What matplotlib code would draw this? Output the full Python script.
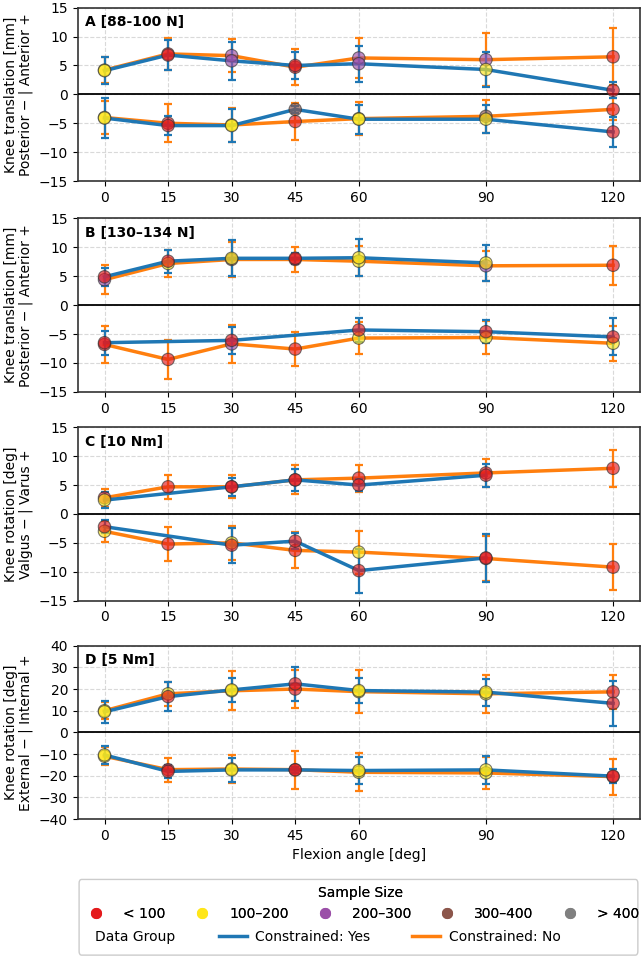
import numpy as np
import matplotlib.pyplot as plt
from matplotlib.lines import Line2D
from matplotlib.patches import FancyBboxPatch

nan = np.nan

# flexion angles (x axis)
flexion = np.array([0, 15, 30, 45, 60, 90, 120])
xticks = [0, 15, 30, 45, 60, 90, 120]

# sample size groups -> marker colour
size_labels = ['< 100', '100–200', '200–300', '300–400', '> 400']
size_colors = ['#e41a1c', '#ffe619', '#9b4fa8', '#8c564b', '#808080']

# --- A: anterior/posterior translation, 88-100 N ---
a_yes_pos = [4.1, 6.8, 5.8, 5.0, 5.3, 4.3, 0.7]
a_yes_pos_sd = [2.3, 2.6, 3.3, 2.4, 3.1, 3.0, 1.4]
a_yes_pos_grp = [1, 0, 2, 0, 2, 1, 0]
a_no_pos = [4.2, 7.0, 6.7, 4.7, 6.3, 6.0, 6.5]
a_no_pos_sd = [2.2, 2.8, 2.8, 3.1, 3.4, 4.6, 4.9]
a_no_pos_grp = [1, 0, 2, 0, 2, 2, 0]
a_yes_neg = [-4.1, -5.4, -5.4, -2.6, -4.3, -4.3, -6.5]
a_yes_neg_sd = [3.5, 1.7, 2.85, 0.6, 2.5, 2.4, 2.6]
a_yes_neg_grp = [1, 0, 1, 3, 1, 1, 0]
a_no_neg = [-4.0, -5.0, -5.3, -4.7, -4.2, -3.8, -2.6]
a_no_neg_sd = [2.8, 3.3, 3.0, 3.2, 2.9, 2.8, 1.9]
a_no_neg_grp = [1, 0, 1, 0, 1, 3, 0]

# --- B: anterior/posterior translation, 130-134 N ---
b_yes_pos = [4.9, 7.6, 8.1, 8.1, 8.2, 7.3, nan]
b_yes_pos_sd = [1.6, 2.0, 3.1, 1.0, 3.2, 3.1, nan]
b_yes_pos_grp = [0, 0, 1, 0, 1, 1, -1]
b_no_pos = [4.4, 7.2, 7.9, 7.9, 7.6, 6.8, 6.9]
b_no_pos_sd = [2.5, 2.3, 3.1, 2.2, 2.6, 2.6, 3.4]
b_no_pos_grp = [2, 1, 3, 0, 1, 2, 0]
b_yes_neg = [-6.5, nan, -6.1, nan, -4.3, -4.6, -5.5]
b_yes_neg_sd = [2.1, nan, 2.3, nan, 2.1, 2.0, 3.2]
b_yes_neg_grp = [0, -1, 0, -1, 0, 0, 0]
b_no_neg = [-6.8, -9.4, -6.7, -7.6, -5.7, -5.6, -6.6]
b_no_neg_sd = [3.2, 3.4, 3.3, 3.0, 2.7, 2.9, 3.0]
b_no_neg_grp = [0, 0, 2, 0, 1, 1, 1]

# --- C: varus/valgus rotation, 10 Nm ---
c_yes_pos = [2.4, nan, 4.7, 5.9, 5.0, 6.7, nan]
c_yes_pos_sd = [1.4, nan, 1.6, 1.95, 1.0, 2.0, nan]
c_yes_pos_grp = [1, -1, 0, 0, 0, 0, -1]
c_no_pos = [2.8, 4.7, 4.7, 5.9, 6.2, 7.1, 7.9]
c_no_pos_sd = [1.6, 2.1, 2.0, 2.5, 2.35, 2.45, 3.2]
c_no_pos_grp = [0, 0, 0, 0, 0, 0, 0]
c_yes_neg = [-2.2, nan, -5.4, -4.7, -9.8, -7.6, nan]
c_yes_neg_sd = [1.1, nan, 3.0, 1.4, 3.8, 4.2, nan]
c_yes_neg_grp = [0, -1, 0, 0, 0, 0, -1]
c_no_neg = [-3.0, -5.2, -5.0, -6.3, -6.6, -7.7, -9.2]
c_no_neg_sd = [1.8, 3.0, 2.9, 3.1, 3.7, 3.9, 4.0]
c_no_neg_grp = [1, 0, 1, 0, 1, 0, 0]

# --- D: internal/external rotation, 5 Nm ---
d_yes_pos = [9.5, 16.5, 19.6, 22.4, 19.3, 18.6, 13.4]
d_yes_pos_sd = [5.0, 6.6, 5.4, 7.7, 5.8, 6.2, 10.5]
d_yes_pos_grp = [1, 0, 1, 0, 1, 1, 0]
d_no_pos = [10.0, 17.8, 19.2, 20.0, 18.8, 17.8, 18.7]
d_no_pos_sd = [4.0, 5.5, 9.0, 8.6, 9.8, 8.7, 8.0]
d_no_pos_grp = [1, 1, 1, 0, 1, 1, 0]
d_yes_neg = [-10.4, -18.0, -17.3, -17.3, -17.6, -17.3, -20.2]
d_yes_neg_sd = [4.3, 3.0, 5.5, 1.5, 6.2, 6.6, 3.1]
d_yes_neg_grp = [1, 0, 1, 0, 1, 1, 0]
d_no_neg = [-11.0, -17.2, -16.9, -17.2, -18.4, -18.7, -20.4]
d_no_neg_sd = [4.2, 5.6, 6.5, 8.7, 8.7, 7.2, 8.3]
d_no_neg_grp = [1, 0, 1, 0, 1, 1, 0]

panel_titles = ['A [88-100 N]', 'B [130–134 N]', 'C [10 Nm]', 'D [5 Nm]']
panel_ylabels = ['Knee translation [mm]\nPosterior − | Anterior +',
                 'Knee translation [mm]\nPosterior − | Anterior +',
                 'Knee rotation [deg]\nValgus − | Varus +',
                 'Knee rotation [deg]\nExternal − | Internal +']
panel_ylim = [15, 15, 15, 40]
panel_ystep = [5, 5, 5, 10]

YES_COLOR = '#1f77b4'
NO_COLOR = '#ff7f0e'

panels = [
    [(a_no_pos, a_no_pos_sd, a_no_pos_grp, NO_COLOR), (a_no_neg, a_no_neg_sd, a_no_neg_grp, NO_COLOR),
     (a_yes_pos, a_yes_pos_sd, a_yes_pos_grp, YES_COLOR), (a_yes_neg, a_yes_neg_sd, a_yes_neg_grp, YES_COLOR)],
    [(b_no_pos, b_no_pos_sd, b_no_pos_grp, NO_COLOR), (b_no_neg, b_no_neg_sd, b_no_neg_grp, NO_COLOR),
     (b_yes_pos, b_yes_pos_sd, b_yes_pos_grp, YES_COLOR), (b_yes_neg, b_yes_neg_sd, b_yes_neg_grp, YES_COLOR)],
    [(c_no_pos, c_no_pos_sd, c_no_pos_grp, NO_COLOR), (c_no_neg, c_no_neg_sd, c_no_neg_grp, NO_COLOR),
     (c_yes_pos, c_yes_pos_sd, c_yes_pos_grp, YES_COLOR), (c_yes_neg, c_yes_neg_sd, c_yes_neg_grp, YES_COLOR)],
    [(d_no_pos, d_no_pos_sd, d_no_pos_grp, NO_COLOR), (d_no_neg, d_no_neg_sd, d_no_neg_grp, NO_COLOR),
     (d_yes_pos, d_yes_pos_sd, d_yes_pos_grp, YES_COLOR), (d_yes_neg, d_yes_neg_sd, d_yes_neg_grp, YES_COLOR)],
]

plt.rcParams['font.family'] = ['DejaVu Sans']
plt.rcParams['font.size'] = 10

fig = plt.figure(figsize=(6.43, 9.58), dpi=100)
bottoms = [0.811, 0.591, 0.373, 0.145]
axes = [fig.add_axes([0.121, b, 0.874, 0.181]) for b in bottoms]

for i, ax in enumerate(axes):
    markers_x, markers_y, markers_c = [], [], []
    for z, (vals, sd, grp, col) in enumerate(panels[i]):
        y = np.array(vals, dtype=float)
        e = np.array(sd, dtype=float)
        m = ~np.isnan(y)
        ax.errorbar(flexion[m], y[m], yerr=e[m], color=col, lw=2.5,
                    elinewidth=1.6, capsize=3, capthick=1.6, zorder=2 + z * 0.1)
        markers_x += list(flexion[m])
        markers_y += list(y[m])
        markers_c += [size_colors[g] for g, ok in zip(grp, m) if ok]
    ax.scatter(markers_x, markers_y, s=80, c=markers_c, alpha=0.65,
               edgecolors='#333333', linewidths=0.8, zorder=5)

    ax.axhline(0, color='black', lw=1.3, zorder=3)
    lim = panel_ylim[i]
    ax.set_ylim(-lim, lim)
    ax.set_yticks(np.arange(-lim, lim + 1, panel_ystep[i]))
    ax.set_xticks(xticks)
    ax.set_xlim(-6.3, 126.3)
    ax.grid(True, ls='--', color='#d0d0d0', lw=0.8, alpha=0.8)
    ax.set_axisbelow(True)
    for s in ax.spines.values():
        s.set_color('#333333')
        s.set_linewidth(1.2)
    ax.set_ylabel(panel_ylabels[i], fontsize=10, linespacing=1.05)
    ax.text(0.012, 0.955, panel_titles[i], transform=ax.transAxes,
            fontsize=10, fontweight='bold', va='top', ha='left')

axes[-1].set_xlabel('Flexion angle [deg]', fontsize=10)

# legend: frame drawn by hand, two rows of entries inside
box = FancyBboxPatch((0.123, 0.003), 0.869, 0.079, transform=fig.transFigure,
                     boxstyle='round,pad=0,rounding_size=0.004', facecolor='white',
                     edgecolor='#cccccc', lw=1.0)
fig.patches.append(box)

size_handles = [Line2D([], [], marker='o', ls='', color=c, markersize=7) for c in size_colors]
leg1 = fig.legend(size_handles, size_labels, ncol=5, loc='center',
                  bbox_to_anchor=(0.561, 0.057), frameon=False, title='Sample Size',
                  fontsize=10, title_fontsize=10, columnspacing=1.6, handletextpad=0.95,
                  borderpad=0.2)
fig.add_artist(leg1)

line_handles = [Line2D([], [], color=YES_COLOR, lw=2.5), Line2D([], [], color=NO_COLOR, lw=2.5)]
fig.legend(line_handles, ['Constrained: Yes', 'Constrained: No'], ncol=2, loc='center',
           bbox_to_anchor=(0.606, 0.022), frameon=False, fontsize=10,
           columnspacing=3.05, handletextpad=0.6, borderpad=0.2)
fig.text(0.148, 0.022, 'Data Group', fontsize=10, va='center', ha='left')

fig.savefig('out.png', dpi=100)
